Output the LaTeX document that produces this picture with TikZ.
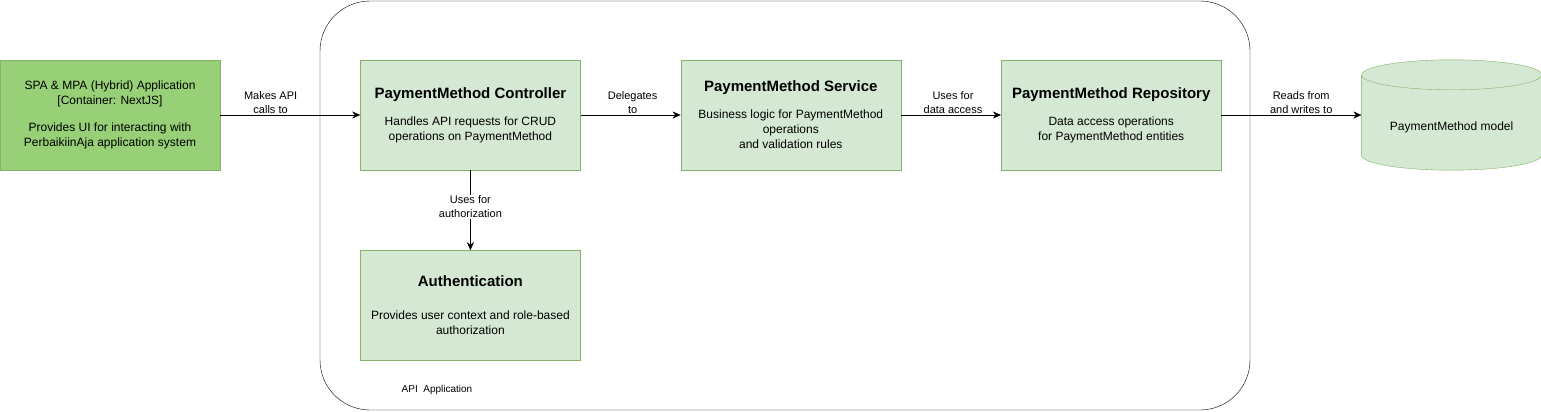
\documentclass[tikz,border=0pt]{standalone}
\usepackage{fontspec}
\setmainfont{Liberation Sans}
\usetikzlibrary{positioning,arrows.meta,backgrounds}
\definecolor{boxfill}{HTML}{D5E8D4}
\definecolor{boxline}{HTML}{82B366}
\definecolor{appfill}{HTML}{97D077}
\newcommand{\ttl}[1]{{\fontsize{15}{18}\selectfont\bfseries #1}}
\begin{document}
\begin{tikzpicture}[x=1pt, y=1pt, node distance=140pt, >={Stealth[length=8pt,width=7pt]},
  main/.style={draw=boxline, fill=boxfill, minimum width=220pt, minimum height=110pt, inner sep=0pt, align=center, font=\fontsize{12}{15}\selectfont},
  lbl/.style={font=\fontsize{11}{14}\selectfont, align=center, inner sep=1pt}]
  \useasboundingbox (0,0) rectangle (1541,-412);
  \draw[rounded corners=50pt] (320,-1) rectangle (1250,-410);
  \node[font=\fontsize{10}{12}\selectfont] (api) at (437,-390) {API\ \ Application};
  \node[main, fill=appfill] (app) at (110,-115) {SPA \& MPA (Hybrid) Application\\{[Container: NextJS]}\\[12pt]Provides UI for interacting with\\PerbaikiinAja application system};
  \node[main] (ctrl) [right=of app] {\ttl{PaymentMethod Controller}\\[12pt]Handles API requests for CRUD\\operations on PaymentMethod};
  \node[main] (svc) [right=100pt of ctrl] {\ttl{PaymentMethod Service}\\[12pt]Business logic for PaymentMethod\\operations\\and validation rules};
  \node[main] (repo) [right=100pt of svc] {\ttl{PaymentMethod Repository}\\[12pt]Data access operations\\for PaymentMethod entities};
  \node[main] (auth) [below=80pt of ctrl] {\ttl{Authentication}\\[18pt]Provides user context and role-based\\authorization};
  \node[minimum width=180pt, minimum height=110pt, inner sep=0pt, text height=30pt, text depth=0pt, font=\fontsize{12}{14}\selectfont] (model) [right=of repo] {PaymentMethod model};
  % database cylinder
  \begin{scope}[on background layer]
    \draw[draw=boxline, fill=boxfill] ([yshift=-15pt]model.north west) -- ([yshift=15pt]model.south west)
      arc[start angle=180, end angle=360, x radius=90pt, y radius=15pt] -- ([yshift=-15pt]model.north east)
      arc[start angle=0, end angle=180, x radius=90pt, y radius=15pt] -- cycle;
    \draw[draw=boxline] ([yshift=-15pt]model.north west) arc[start angle=180, end angle=360, x radius=90pt, y radius=15pt];
  \end{scope}
  \draw[->] (app) -- node[lbl, pos=0.36, anchor=south] {Makes API\\calls to} (ctrl);
  \draw[->] (ctrl) -- node[lbl, pos=0.52, anchor=south] {Delegates\\to} (svc);
  \draw[->] (svc) -- node[lbl, pos=0.52, anchor=south] {Uses for\\data access} (repo);
  \draw[->] (repo) -- node[lbl, pos=0.57, anchor=south] {Reads from\\and writes to} (repo.east -| model.west);
  \draw[->] (ctrl) -- node[lbl, pos=0.46, fill=white] {Uses for\\authorization} (auth);
\end{tikzpicture}
\end{document}
